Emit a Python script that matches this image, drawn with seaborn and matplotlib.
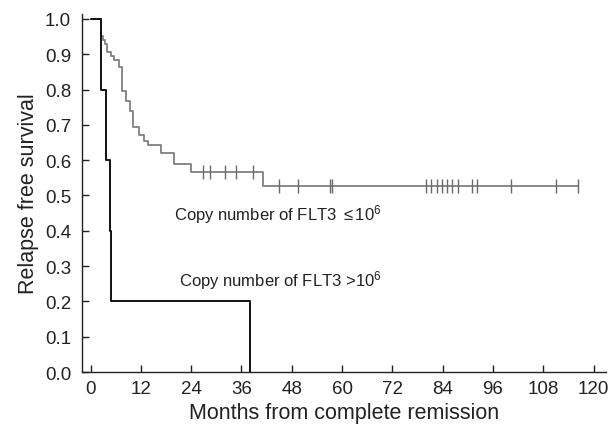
import numpy as np
import pandas as pd
import seaborn as sns
import matplotlib
matplotlib.use("Agg")
import matplotlib.pyplot as plt

# Kaplan-Meier step data (months, survival)
low_times = [0, 2.5, 3.0, 3.5, 4.0, 5.0, 5.6, 6.8, 7.6, 8.5, 9.4, 10.2, 11.5, 12.7, 13.7, 16.9, 19.9, 23.9, 41.2, 116.2]
low_surv = [1.0, 0.953, 0.939, 0.929, 0.907, 0.896, 0.884, 0.865, 0.797, 0.769, 0.738, 0.693, 0.671, 0.655, 0.644, 0.620, 0.589, 0.566, 0.528, 0.528]
low_censor = [26.9, 28.6, 32.0, 34.6, 38.8, 44.9, 49.5, 57.1, 57.7, 80.0, 81.3, 82.6, 83.8, 85.0, 86.2, 87.6, 90.9, 92.2, 100.3, 110.9, 116.2]

high_times = [0, 2.6, 3.8, 4.6, 5.0, 38.0]
high_surv = [1.0, 0.8, 0.6, 0.4, 0.2, 0.0]

x_ticks = [0, 12, 24, 36, 48, 60, 72, 84, 96, 108, 120]
y_ticks = [0.0, 0.1, 0.2, 0.3, 0.4, 0.5, 0.6, 0.7, 0.8, 0.9, 1.0]

label_low = "Copy number of FLT3 $\\leq$10$^{6}$"
label_high = "Copy number of FLT3 >10$^{6}$"
x_label = "Months from complete remission"
y_label = "Relapse free survival"

sns.set_style("ticks")
plt.rcParams['font.family'] = ['Liberation Sans', 'DejaVu Sans']
plt.rcParams['mathtext.fontset'] = 'custom'
plt.rcParams['mathtext.rm'] = 'Liberation Sans'
plt.rcParams['mathtext.it'] = 'Liberation Sans'

fig = plt.figure(figsize=(6.13, 4.35), dpi=100)
ax = fig.add_axes([0.134, 0.1425, 0.855, 0.823])

df_low = pd.DataFrame({"t": low_times, "s": low_surv})
df_high = pd.DataFrame({"t": high_times, "s": high_surv})

sns.lineplot(data=df_low, x="t", y="s", drawstyle="steps-post", color="#808080",
             linewidth=1.3, estimator=None, ax=ax)
sns.lineplot(data=df_high, x="t", y="s", drawstyle="steps-post", color="#111111",
             linewidth=1.4, estimator=None, ax=ax)

# censor marks placed on the step curve
lt = np.array(low_times)
ls = np.array(low_surv)
idx = np.searchsorted(lt, np.array(low_censor), side="right") - 1
df_c = pd.DataFrame({"t": low_censor, "s": ls[idx]})
sns.scatterplot(data=df_c, x="t", y="s", marker="|", s=110, color="#6a6a6a",
                linewidth=1.0, ax=ax, zorder=3)

ax.set_xlim(-2, 123)
ax.set_ylim(0, 1.014)
ax.set_xticks(x_ticks)
ax.set_yticks(y_ticks)
ax.set_yticklabels([f"{v:.1f}" for v in y_ticks])
ax.tick_params(direction="in", length=5, width=1, labelsize=13.5, colors="#222222")
ax.tick_params(axis="x", pad=6)
ax.tick_params(axis="y", pad=8)
for s in ["top", "right"]:
    ax.spines[s].set_visible(False)
for s in ["left", "bottom"]:
    ax.spines[s].set_linewidth(1.0)
    ax.spines[s].set_color("#222222")

ax.set_xlabel(x_label, fontsize=15.5, color="#222222", labelpad=3)
ax.set_ylabel(y_label, fontsize=15.5, color="#222222", labelpad=4)

ax.text(19.8, 0.448, label_low, fontsize=12, color="#222222", va="center", ha="left")
ax.text(21.0, 0.263, label_high, fontsize=12, color="#222222", va="center", ha="left")

fig.savefig("out.png", dpi=100)
